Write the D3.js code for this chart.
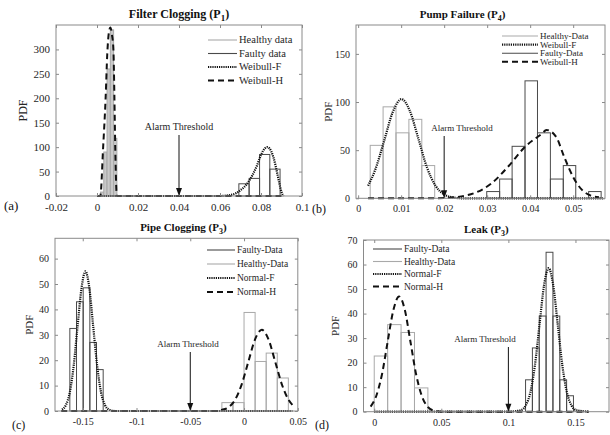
<!DOCTYPE html>
<html><head><meta charset="utf-8">
<script src="https://cdn.jsdelivr.net/npm/d3@7"></script>
<style>
body{margin:0;background:#fff}
svg{display:block}
text{font-family:"Liberation Serif","Times New Roman",serif}
</style>
</head><body>
<svg id="chart" width="610" height="435"></svg>
<script>
// ---------- Panel (a) Filter Clogging ----------
const aXTicks = [-0.02, 0, 0.02, 0.04, 0.06, 0.08, 0.1];
const aXTickLabels = ["-0.02", "0", "0.02", "0.04", "0.06", "0.08", "0.1"];
const aYTicks = [0, 50, 100, 150, 200, 250, 300];
const aHealthyEdges = [0.0017, 0.0033, 0.0049, 0.0065, 0.0081, 0.0097];
const aHealthyCounts = [8, 90, 260, 340, 118];
const aFaultyEdges = [0.0692, 0.0742, 0.0793, 0.0843, 0.0893];
const aFaultyCounts = [25, 36, 85, 55];
const aWeibullFX = [0, 0.06, 0.065, 0.068, 0.07, 0.073, 0.076, 0.078, 0.08, 0.082, 0.083, 0.084, 0.086, 0.088, 0.089, 0.09, 0.091];
const aWeibullFY = [0, 0, 2, 6, 12, 24, 44, 62, 84, 98, 100, 98, 80, 45, 25, 8, 0];
const aWeibullHX = [0, 0.0016, 0.003, 0.0042, 0.005, 0.0058, 0.0065, 0.0073, 0.008, 0.0085, 0.0089, 0.0097, 0.011, 0.09];
const aWeibullHY = [0, 0, 100, 200, 290, 335, 345, 330, 300, 200, 100, 0, 0, 0];
const aLegend = ["Healthy data", "Faulty data", "Weibull-F", "Weibull-H"];

// ---------- Panel (b) Pump Failure ----------
const bXTicks = [0, 0.01, 0.02, 0.03, 0.04, 0.05];
const bXTickLabels = ["0", "0.01", "0.02", "0.03", "0.04", "0.05"];
const bYTicks = [0, 50, 100, 150];
const bHealthyEdges = [0.0028, 0.0058, 0.0088, 0.0118, 0.0148, 0.0178];
const bHealthyCounts = [55, 95, 68, 82, 34];
const bFaultyEdges = [0.0299, 0.0329, 0.0358, 0.0388, 0.0417, 0.0447, 0.0477, 0.0506, 0.0536, 0.0565];
const bFaultyCounts = [7, 20, 54, 122, 68, 20, 34, 0, 7];
const bWeibullFX = [0.0023, 0.004, 0.006, 0.008, 0.0101, 0.012, 0.014, 0.016, 0.018, 0.02, 0.022, 0.024, 0.03, 0.04, 0.05, 0.057];
const bWeibullFY = [13, 30, 59, 89, 103, 91, 62, 32, 13, 4, 1, 0, 0, 0, 0, 0];
const bWeibullHX = [0.0023, 0.018, 0.021, 0.024, 0.0271, 0.031, 0.0349, 0.0388, 0.0427, 0.0438, 0.046, 0.048, 0.05, 0.052, 0.054, 0.056];
const bWeibullHY = [0, 0, 0.5, 2, 5.5, 15.5, 33, 53.5, 67, 71, 64, 42, 22, 9, 3, 1];
const bLegend = ["Healthy-Data", "Weibull-F", "Faulty-Data", "Weibull-H"];

// ---------- Panel (c) Pipe Clogging ----------
const cXTicks = [-0.15, -0.1, -0.05, 0, 0.05];
const cXTickLabels = ["-0.15", "-0.1", "-0.05", "0", "0.05"];
const cYTicks = [0, 10, 20, 30, 40, 50, 60];
const cFaultyEdges = [-0.162, -0.1558, -0.1496, -0.1434, -0.1372, -0.131];
const cFaultyCounts = [32.5, 43, 48.5, 27, 16.3];
const cHealthyEdges = [-0.0206, -0.0103, 0, 0.0103, 0.0206, 0.0309, 0.0412];
const cHealthyCounts = [3.3, 3.3, 38.8, 19.5, 22.8, 13];
const cNormalFX = [-0.1693, -0.1656, -0.162, -0.1584, -0.1548, -0.1511, -0.1475, -0.1439, -0.1403, -0.1366, -0.133, -0.1294, -0.1257, -0.12, -0.1, -0.05, 0, 0.045];
const cNormalFY = [0.6, 2.4, 7.4, 17.9, 33.4, 48.5, 55, 48.5, 33.4, 17.9, 7.4, 2.4, 0.6, 0, 0, 0, 0, 0];
const cNormalHX = [-0.17, -0.025, -0.021, -0.0148, -0.0085, -0.00225, 0.004, 0.01025, 0.0165, 0.02275, 0.029, 0.03525, 0.0415, 0.0455];
const cNormalHY = [0, 0, 0.4, 1.4, 4.3, 10.4, 19.4, 28.2, 32, 28.2, 19.4, 10.4, 4.3, 2.2];
const cLegend = ["Faulty-Data", "Healthy-Data", "Normal-F", "Normal-H"];

// ---------- Panel (d) Leak ----------
const dXTicks = [0, 0.05, 0.1, 0.15];
const dXTickLabels = ["0", "0.05", "0.1", "0.15"];
const dYTicks = [0, 10, 20, 30, 40, 50, 60, 70];
const dHealthyEdges = [0, 0.01, 0.02, 0.03, 0.04];
const dHealthyCounts = [22.7, 35.5, 32.3, 9.7];
const dFaultyEdges = [0.1128, 0.1179, 0.123, 0.1281, 0.1332, 0.1383, 0.1434, 0.1485];
const dFaultyCounts = [13, 26, 39, 65, 39, 13, 6.5];
const dNormalFX = [0, 0.1, 0.1095, 0.113, 0.1164, 0.1198, 0.1232, 0.1266, 0.13, 0.1334, 0.1368, 0.1402, 0.1436, 0.147, 0.1505, 0.16];
const dNormalFY = [0, 0, 0.65, 2.6, 7.9, 19, 35.5, 51.6, 58.5, 51.6, 35.5, 19, 7.9, 2.6, 0.65, 0];
const dNormalHX = [-0.0027, 0.0015, 0.0058, 0.01, 0.0143, 0.0185, 0.0228, 0.027, 0.0312, 0.0355, 0.0397, 0.044, 0.05, 0.16];
const dNormalHY = [2.1, 6.4, 15.3, 28.5, 41.5, 47, 41.5, 28.5, 15.3, 6.4, 2.1, 0.5, 0, 0];
const dLegend = ["Faulty-Data", "Healthy-Data", "Normal-F", "Normal-H"];

const thresholds = [0.04, 0.02, -0.05, 0.1];

// ---------- styles ----------
const STY = {
  healthy: {stroke: "#a9a9a9", width: 1.1, dash: null},
  faulty:  {stroke: "#4a4a4a", width: 1.1, dash: null},
  dotted:  {stroke: "#111", width: 2.2, dash: "1.2,1"},
  dashed:  {stroke: "#111", width: 2, dash: "6,4"}
};

const svg = d3.select("#chart");

function drawPanel(p) {
  const g = svg.append("g");
  const x = d3.scaleLinear().domain(p.xDomain).range([p.left, p.right]);
  const y = d3.scaleLinear().domain(p.yDomain).range([p.bottom, p.top]);

  // histograms
  p.hists.forEach(h => {
    g.append("g").selectAll("rect").data(h.counts.map((c, i) => ({c, x0: h.edges[i], x1: h.edges[i + 1]})))
      .join("rect")
      .attr("x", d => x(d.x0)).attr("width", d => x(d.x1) - x(d.x0))
      .attr("y", d => y(d.c)).attr("height", d => y(0) - y(d.c))
      .attr("fill", h.fill || "none")
      .attr("stroke", STY[h.kind].stroke).attr("stroke-width", 1);
  });

  // curves
  p.curves.forEach(c => {
    const pts = c.xs.map((v, i) => [v, c.ys[i]]);
    g.append("path").datum(pts)
      .attr("d", d3.line().x(d => x(d[0])).y(d => y(d[1])).curve(d3.curveMonotoneX))
      .attr("fill", "none").attr("stroke", STY[c.kind].stroke)
      .attr("stroke-width", STY[c.kind].width)
      .attr("stroke-dasharray", STY[c.kind].dash);
  });

  // axes (MATLAB style, inward ticks on all sides)
  const ax = g.append("g").attr("class", "axes");
  ax.append("g").attr("transform", `translate(0,${p.bottom})`)
    .call(d3.axisBottom(x).tickValues(p.xTicks).tickFormat((d, i) => p.xTickLabels[i]).tickSizeInner(-3).tickSizeOuter(0).tickPadding(7));
  ax.append("g").attr("transform", `translate(0,${p.top})`)
    .call(d3.axisTop(x).tickValues(p.xTicks).tickFormat("").tickSizeInner(-3).tickSizeOuter(0));
  ax.append("g").attr("transform", `translate(${p.left},0)`)
    .call(d3.axisLeft(y).tickValues(p.yTicks).tickFormat(d3.format("d")).tickSizeInner(-3).tickSizeOuter(0).tickPadding(6));
  ax.append("g").attr("transform", `translate(${p.right},0)`)
    .call(d3.axisRight(y).tickValues(p.yTicks).tickFormat("").tickSizeInner(-3).tickSizeOuter(0));
  ax.selectAll(".domain").remove();
  ax.selectAll(".tick line").attr("stroke", "#8a8a8a");
  ax.selectAll(".tick text").attr("fill", "#262626").style("font-size", p.fs + "px").style("font-family", '"Liberation Serif",serif');
  ax.append("rect").attr("x", p.left).attr("y", p.top).attr("width", p.right - p.left).attr("height", p.bottom - p.top)
    .attr("fill", "none").attr("stroke", "#8a8a8a").attr("stroke-width", 1);

  // title
  const t = g.append("text").attr("x", (p.left + p.right) / 2 + p.titleDx).attr("y", p.top - 7)
    .attr("text-anchor", "middle").style("font-size", (p.fs + 1) + "px").style("font-weight", "bold").attr("fill", "#111");
  t.append("tspan").text(p.title + " (P");
  t.append("tspan").text(p.sub).attr("dy", 3).style("font-size", (p.fs - 2) + "px");
  t.append("tspan").text(")").attr("dy", -3);

  // y label
  g.append("text").attr("transform", `translate(${p.ylabX},${(p.top + p.bottom) / 2}) rotate(-90)`)
    .attr("text-anchor", "middle").style("font-size", (p.fs + 1) + "px").attr("fill", "#262626").text("PDF");

  // panel letter
  g.append("text").attr("x", p.letterX).attr("y", p.letterY).style("font-size", (p.fs + 2) + "px").attr("fill", "#111").text(p.letter);

  // alarm threshold
  const ax0 = x(p.threshold);
  g.append("text").attr("x", p.alarmTextX).attr("y", p.alarmTextY).attr("text-anchor", "middle")
    .style("font-size", (p.fs - 1) + "px").attr("fill", "#262626").text("Alarm Threshold");
  g.append("line").attr("x1", ax0).attr("x2", ax0).attr("y1", p.alarmTextY + 5).attr("y2", p.bottom - 4)
    .attr("stroke", "#111").attr("stroke-width", 1);
  g.append("path").attr("d", `M${ax0 - 3},${p.bottom - 8} L${ax0 + 3},${p.bottom - 8} L${ax0},${p.bottom} Z`).attr("fill", "#111");

  // legend
  const lg = g.append("g");
  p.legend.forEach((lab, i) => {
    const yy = p.legY + i * p.legDy;
    const st = STY[p.legKinds[i]];
    lg.append("line").attr("x1", p.legX0).attr("x2", p.legX1).attr("y1", yy).attr("y2", yy)
      .attr("stroke", st.stroke).attr("stroke-width", st.width).attr("stroke-dasharray", st.dash);
    lg.append("text").attr("x", p.legX1 + 2).attr("y", yy + 3.2).style("font-size", p.legFs + "px")
      .attr("fill", "#262626").text(lab);
  });
}

drawPanel({
  xDomain: [-0.02, 0.1], yDomain: [0, 350], left: 56, right: 302, top: 25, bottom: 196,
  xTicks: aXTicks, xTickLabels: aXTickLabels, yTicks: aYTicks, fs: 11,
  hists: [{edges: aHealthyEdges, counts: aHealthyCounts, kind: "healthy", fill: "#c9c9c9"},
          {edges: aFaultyEdges, counts: aFaultyCounts, kind: "faulty"}],
  curves: [{xs: aWeibullFX, ys: aWeibullFY, kind: "dotted"}, {xs: aWeibullHX, ys: aWeibullHY, kind: "dashed"}],
  title: "Filter Clogging", sub: "1", titleDx: 0, ylabX: 27, letter: "(a)", letterX: 4, letterY: 210,
  threshold: thresholds[0], alarmTextX: 179, alarmTextY: 130,
  legend: aLegend, legKinds: ["healthy", "faulty", "dotted", "dashed"], legX0: 208, legX1: 237, legY: 40, legDy: 13.5, legFs: 10.5
});

drawPanel({
  xDomain: [-0.0005, 0.0574], yDomain: [0, 180], left: 356, right: 605, top: 25, bottom: 198.3,
  xTicks: bXTicks, xTickLabels: bXTickLabels, yTicks: bYTicks, fs: 10,
  hists: [{edges: bHealthyEdges, counts: bHealthyCounts, kind: "healthy"},
          {edges: bFaultyEdges, counts: bFaultyCounts, kind: "faulty"}],
  curves: [{xs: bWeibullFX, ys: bWeibullFY, kind: "dotted"}, {xs: bWeibullHX, ys: bWeibullHY, kind: "dashed"}],
  title: "Pump Failure", sub: "4", titleDx: -18, ylabX: 332, letter: "(b)", letterX: 312, letterY: 213,
  threshold: thresholds[1], alarmTextX: 462, alarmTextY: 131,
  legend: bLegend, legKinds: ["healthy", "dotted", "faulty", "dashed"], legX0: 502, legX1: 538, legY: 36, legDy: 8.6, legFs: 9
});

drawPanel({
  xDomain: [-0.1758, 0.05], yDomain: [0, 68], left: 55, right: 297.8, top: 238.3, bottom: 411,
  xTicks: cXTicks, xTickLabels: cXTickLabels, yTicks: cYTicks, fs: 10,
  hists: [{edges: cFaultyEdges, counts: cFaultyCounts, kind: "faulty"},
          {edges: cHealthyEdges, counts: cHealthyCounts, kind: "healthy"}],
  curves: [{xs: cNormalFX, ys: cNormalFY, kind: "dotted"}, {xs: cNormalHX, ys: cNormalHY, kind: "dashed"}],
  title: "Pipe Clogging", sub: "3", titleDx: 7, ylabX: 33, letter: "(c)", letterX: 12, letterY: 429,
  threshold: thresholds[2], alarmTextX: 188, alarmTextY: 347,
  legend: cLegend, legKinds: ["faulty", "healthy", "dotted", "dashed"], legX0: 207, legX1: 235, legY: 250, legDy: 14, legFs: 9.5
});

drawPanel({
  xDomain: [-0.008, 0.175], yDomain: [0, 70], left: 363.5, right: 609, top: 240, bottom: 411.7,
  xTicks: dXTicks, xTickLabels: dXTickLabels, yTicks: dYTicks, fs: 10,
  hists: [{edges: dHealthyEdges, counts: dHealthyCounts, kind: "healthy"},
          {edges: dFaultyEdges, counts: dFaultyCounts, kind: "faulty"}],
  curves: [{xs: dNormalFX, ys: dNormalFY, kind: "dotted"}, {xs: dNormalHX, ys: dNormalHY, kind: "dashed"}],
  title: "Leak", sub: "3", titleDx: 0, ylabX: 339, letter: "(d)", letterX: 315, letterY: 429,
  threshold: thresholds[3], alarmTextX: 485, alarmTextY: 342,
  legend: dLegend, legKinds: ["faulty", "healthy", "dotted", "dashed"], legX0: 373, legX1: 402, legY: 249, legDy: 12.5, legFs: 9.5
});
</script>
</body></html>
